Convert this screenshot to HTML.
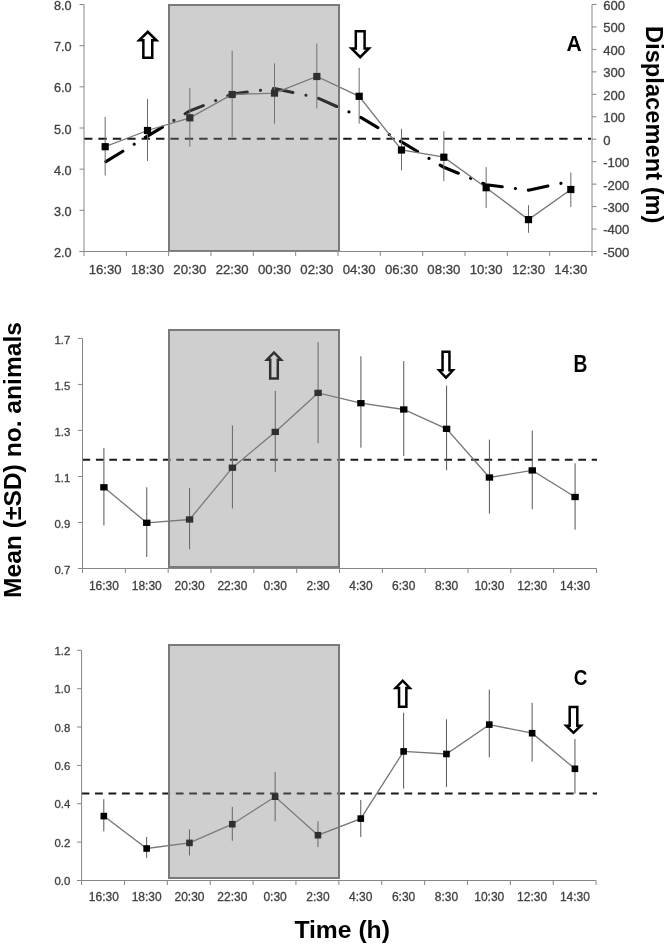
<!DOCTYPE html>
<html><head><meta charset="utf-8"><style>
html,body{margin:0;padding:0;background:#fff;}
body{width:666px;height:944px;overflow:hidden;}
svg{display:block;filter:grayscale(1);}
text{font-family:"Liberation Sans", sans-serif;}
.lb{stroke:#404040;stroke-width:0.3px;}
</style></head><body>
<svg width="666" height="944" viewBox="0 0 666 944" font-family='"Liberation Sans", sans-serif'>
<rect width="666" height="944" fill="#fff"/>
<line x1="84" y1="138.8" x2="591" y2="138.8" stroke="#1a1a1a" stroke-width="2" stroke-dasharray="8.4 6"/>
<polyline points="105.17,162.1 147.5,136.1 189.83,110.9 232.17,94.1 274.5,88.5 316.83,97.6 359.17,116.5 401.5,141.9 443.83,167.3 486.17,184.7 528.5,190.2 570.83,181.2" fill="none" stroke="#000" stroke-width="3.1" stroke-dasharray="19.94 13.33 0.01 13.03" stroke-dashoffset="-0.83" stroke-linecap="round" stroke-linejoin="round"/>
<line x1="105.17" y1="116.9" x2="105.17" y2="175.5" stroke="#6a6a6a" stroke-width="1"/>
<line x1="147.5" y1="98.9" x2="147.5" y2="161" stroke="#6a6a6a" stroke-width="1"/>
<line x1="189.83" y1="88" x2="189.83" y2="146.7" stroke="#6a6a6a" stroke-width="1"/>
<line x1="232.17" y1="50.7" x2="232.17" y2="137.2" stroke="#6a6a6a" stroke-width="1"/>
<line x1="274.5" y1="63.3" x2="274.5" y2="123.7" stroke="#6a6a6a" stroke-width="1"/>
<line x1="316.83" y1="43.5" x2="316.83" y2="108.4" stroke="#6a6a6a" stroke-width="1"/>
<line x1="359.17" y1="67.8" x2="359.17" y2="123.7" stroke="#6a6a6a" stroke-width="1"/>
<line x1="401.5" y1="128.9" x2="401.5" y2="170.4" stroke="#6a6a6a" stroke-width="1"/>
<line x1="443.83" y1="131.3" x2="443.83" y2="181.2" stroke="#6a6a6a" stroke-width="1"/>
<line x1="486.17" y1="167.1" x2="486.17" y2="208.1" stroke="#6a6a6a" stroke-width="1"/>
<line x1="528.5" y1="205.2" x2="528.5" y2="232.8" stroke="#6a6a6a" stroke-width="1"/>
<line x1="570.83" y1="172.4" x2="570.83" y2="207" stroke="#6a6a6a" stroke-width="1"/>
<polyline points="105.17,146.7 147.5,130.5 189.83,117.8 232.17,94.5 274.5,93.1 316.83,76.5 359.17,96.3 401.5,150 443.83,157.2 486.17,187.7 528.5,219.6 570.83,189.5" fill="none" stroke="#777" stroke-width="1.3"/>
<rect x="101.57" y="143.1" width="7.2" height="7.2" fill="#000"/>
<rect x="143.9" y="126.9" width="7.2" height="7.2" fill="#000"/>
<rect x="186.23" y="114.2" width="7.2" height="7.2" fill="#000"/>
<rect x="228.57" y="90.9" width="7.2" height="7.2" fill="#000"/>
<rect x="270.9" y="89.5" width="7.2" height="7.2" fill="#000"/>
<rect x="313.23" y="72.9" width="7.2" height="7.2" fill="#000"/>
<rect x="355.57" y="92.7" width="7.2" height="7.2" fill="#000"/>
<rect x="397.9" y="146.4" width="7.2" height="7.2" fill="#000"/>
<rect x="440.23" y="153.6" width="7.2" height="7.2" fill="#000"/>
<rect x="482.57" y="184.1" width="7.2" height="7.2" fill="#000"/>
<rect x="524.9" y="216" width="7.2" height="7.2" fill="#000"/>
<rect x="567.23" y="185.9" width="7.2" height="7.2" fill="#000"/>
<path d="M147.8,30.1 L159.5,41.6 L153.5,41.6 L153.5,58.9 L142.1,58.9 L142.1,41.6 L136.1,41.6 Z" fill="#000"/>
<path d="M147.8,33.64 L153.26,39.1 L151,39.1 L151,56.4 L144.6,56.4 L144.6,39.1 L142.34,39.1 Z" fill="#fff"/>
<path d="M354.55,30 L365.85,30 L365.85,47.3 L371.9,47.3 L360.2,58.9 L348.5,47.3 L354.55,47.3 Z" fill="#000"/>
<path d="M357.05,32.5 L363.35,32.5 L363.35,49.8 L365.76,49.8 L360.2,55.36 L354.64,49.8 L357.05,49.8 Z" fill="#fff"/>
<rect x="169" y="5" width="170" height="246" fill="#808080" fill-opacity="0.378" stroke="#7a7a7a" stroke-width="2"/>
<line x1="84" y1="4.5" x2="84" y2="251.5" stroke="#868686" stroke-width="1"/>
<line x1="79.5" y1="251.5" x2="596.5" y2="251.5" stroke="#868686" stroke-width="1"/>
<line x1="84" y1="251.5" x2="84" y2="256" stroke="#868686" stroke-width="1"/>
<line x1="126.33" y1="251.5" x2="126.33" y2="256" stroke="#868686" stroke-width="1"/>
<line x1="168.67" y1="251.5" x2="168.67" y2="256" stroke="#868686" stroke-width="1"/>
<line x1="211" y1="251.5" x2="211" y2="256" stroke="#868686" stroke-width="1"/>
<line x1="253.33" y1="251.5" x2="253.33" y2="256" stroke="#868686" stroke-width="1"/>
<line x1="295.67" y1="251.5" x2="295.67" y2="256" stroke="#868686" stroke-width="1"/>
<line x1="338" y1="251.5" x2="338" y2="256" stroke="#868686" stroke-width="1"/>
<line x1="380.33" y1="251.5" x2="380.33" y2="256" stroke="#868686" stroke-width="1"/>
<line x1="422.67" y1="251.5" x2="422.67" y2="256" stroke="#868686" stroke-width="1"/>
<line x1="465" y1="251.5" x2="465" y2="256" stroke="#868686" stroke-width="1"/>
<line x1="507.33" y1="251.5" x2="507.33" y2="256" stroke="#868686" stroke-width="1"/>
<line x1="549.67" y1="251.5" x2="549.67" y2="256" stroke="#868686" stroke-width="1"/>
<line x1="592" y1="251.5" x2="592" y2="256" stroke="#868686" stroke-width="1"/>
<line x1="79.5" y1="4.5" x2="84" y2="4.5" stroke="#868686" stroke-width="1"/>
<text x="71.6" y="10" text-anchor="end" font-size="12.7" fill="#404040" class="lb">8.0</text>
<line x1="79.5" y1="45.67" x2="84" y2="45.67" stroke="#868686" stroke-width="1"/>
<text x="71.6" y="51.17" text-anchor="end" font-size="12.7" fill="#404040" class="lb">7.0</text>
<line x1="79.5" y1="86.83" x2="84" y2="86.83" stroke="#868686" stroke-width="1"/>
<text x="71.6" y="92.33" text-anchor="end" font-size="12.7" fill="#404040" class="lb">6.0</text>
<line x1="79.5" y1="128" x2="84" y2="128" stroke="#868686" stroke-width="1"/>
<text x="71.6" y="133.5" text-anchor="end" font-size="12.7" fill="#404040" class="lb">5.0</text>
<line x1="79.5" y1="169.17" x2="84" y2="169.17" stroke="#868686" stroke-width="1"/>
<text x="71.6" y="174.67" text-anchor="end" font-size="12.7" fill="#404040" class="lb">4.0</text>
<line x1="79.5" y1="210.33" x2="84" y2="210.33" stroke="#868686" stroke-width="1"/>
<text x="71.6" y="215.83" text-anchor="end" font-size="12.7" fill="#404040" class="lb">3.0</text>
<line x1="79.5" y1="251.5" x2="84" y2="251.5" stroke="#868686" stroke-width="1"/>
<text x="71.6" y="257" text-anchor="end" font-size="12.7" fill="#404040" class="lb">2.0</text>
<text x="105.17" y="274.4" text-anchor="middle" font-size="13.2" fill="#404040" class="lb">16:30</text>
<text x="147.5" y="274.4" text-anchor="middle" font-size="13.2" fill="#404040" class="lb">18:30</text>
<text x="189.83" y="274.4" text-anchor="middle" font-size="13.2" fill="#404040" class="lb">20:30</text>
<text x="232.17" y="274.4" text-anchor="middle" font-size="13.2" fill="#404040" class="lb">22:30</text>
<text x="274.5" y="274.4" text-anchor="middle" font-size="13.2" fill="#404040" class="lb">00:30</text>
<text x="316.83" y="274.4" text-anchor="middle" font-size="13.2" fill="#404040" class="lb">02:30</text>
<text x="359.17" y="274.4" text-anchor="middle" font-size="13.2" fill="#404040" class="lb">04:30</text>
<text x="401.5" y="274.4" text-anchor="middle" font-size="13.2" fill="#404040" class="lb">06:30</text>
<text x="443.83" y="274.4" text-anchor="middle" font-size="13.2" fill="#404040" class="lb">08:30</text>
<text x="486.17" y="274.4" text-anchor="middle" font-size="13.2" fill="#404040" class="lb">10:30</text>
<text x="528.5" y="274.4" text-anchor="middle" font-size="13.2" fill="#404040" class="lb">12:30</text>
<text x="570.83" y="274.4" text-anchor="middle" font-size="13.2" fill="#404040" class="lb">14:30</text>
<line x1="592" y1="4.5" x2="592" y2="251.5" stroke="#868686" stroke-width="1"/>
<line x1="592" y1="4.5" x2="596.5" y2="4.5" stroke="#868686" stroke-width="1"/>
<text x="603.2" y="9.9" font-size="13.1" fill="#404040" class="lb">600</text>
<line x1="592" y1="26.95" x2="596.5" y2="26.95" stroke="#868686" stroke-width="1"/>
<text x="603.2" y="32.35" font-size="13.1" fill="#404040" class="lb">500</text>
<line x1="592" y1="49.41" x2="596.5" y2="49.41" stroke="#868686" stroke-width="1"/>
<text x="603.2" y="54.81" font-size="13.1" fill="#404040" class="lb">400</text>
<line x1="592" y1="71.86" x2="596.5" y2="71.86" stroke="#868686" stroke-width="1"/>
<text x="603.2" y="77.26" font-size="13.1" fill="#404040" class="lb">300</text>
<line x1="592" y1="94.32" x2="596.5" y2="94.32" stroke="#868686" stroke-width="1"/>
<text x="603.2" y="99.72" font-size="13.1" fill="#404040" class="lb">200</text>
<line x1="592" y1="116.77" x2="596.5" y2="116.77" stroke="#868686" stroke-width="1"/>
<text x="603.2" y="122.17" font-size="13.1" fill="#404040" class="lb">100</text>
<line x1="592" y1="139.23" x2="596.5" y2="139.23" stroke="#868686" stroke-width="1"/>
<text x="603.2" y="144.63" font-size="13.1" fill="#404040" class="lb">0</text>
<line x1="592" y1="161.68" x2="596.5" y2="161.68" stroke="#868686" stroke-width="1"/>
<text x="603.2" y="167.08" font-size="13.1" fill="#404040" class="lb">-100</text>
<line x1="592" y1="184.14" x2="596.5" y2="184.14" stroke="#868686" stroke-width="1"/>
<text x="603.2" y="189.54" font-size="13.1" fill="#404040" class="lb">-200</text>
<line x1="592" y1="206.59" x2="596.5" y2="206.59" stroke="#868686" stroke-width="1"/>
<text x="603.2" y="211.99" font-size="13.1" fill="#404040" class="lb">-300</text>
<line x1="592" y1="229.05" x2="596.5" y2="229.05" stroke="#868686" stroke-width="1"/>
<text x="603.2" y="234.45" font-size="13.1" fill="#404040" class="lb">-400</text>
<line x1="592" y1="251.5" x2="596.5" y2="251.5" stroke="#868686" stroke-width="1"/>
<text x="603.2" y="256.9" font-size="13.1" fill="#404040" class="lb">-500</text>
<text transform="translate(566.5,51.1) scale(0.97,1)" font-size="21.7" font-weight="bold" fill="#000">A</text>
<line x1="82.5" y1="459.7" x2="597" y2="459.7" stroke="#1a1a1a" stroke-width="2" stroke-dasharray="7.7 5.7"/>
<line x1="103.92" y1="448" x2="103.92" y2="525.5" stroke="#555" stroke-width="1"/>
<line x1="146.75" y1="487.3" x2="146.75" y2="557" stroke="#555" stroke-width="1"/>
<line x1="189.58" y1="488" x2="189.58" y2="549.3" stroke="#555" stroke-width="1"/>
<line x1="232.42" y1="425.5" x2="232.42" y2="508.4" stroke="#555" stroke-width="1"/>
<line x1="275.25" y1="390.9" x2="275.25" y2="471.8" stroke="#555" stroke-width="1"/>
<line x1="318.08" y1="342.2" x2="318.08" y2="443.3" stroke="#555" stroke-width="1"/>
<line x1="360.92" y1="356.3" x2="360.92" y2="447.7" stroke="#555" stroke-width="1"/>
<line x1="403.75" y1="361.1" x2="403.75" y2="456.1" stroke="#555" stroke-width="1"/>
<line x1="446.58" y1="385.7" x2="446.58" y2="470.2" stroke="#555" stroke-width="1"/>
<line x1="489.42" y1="439.6" x2="489.42" y2="513.6" stroke="#555" stroke-width="1"/>
<line x1="532.25" y1="430.6" x2="532.25" y2="509.2" stroke="#555" stroke-width="1"/>
<line x1="575.08" y1="463.3" x2="575.08" y2="529.7" stroke="#555" stroke-width="1"/>
<polyline points="103.92,487.3 146.75,522.8 189.58,519.5 232.42,467.7 275.25,431.9 318.08,392.9 360.92,403.2 403.75,409.5 446.58,428.8 489.42,477.5 532.25,470.4 575.08,497" fill="none" stroke="#777" stroke-width="1.3"/>
<rect x="100.22" y="484.15" width="7.4" height="6.3" fill="#000"/>
<rect x="143.05" y="519.65" width="7.4" height="6.3" fill="#000"/>
<rect x="185.88" y="516.35" width="7.4" height="6.3" fill="#000"/>
<rect x="228.72" y="464.55" width="7.4" height="6.3" fill="#000"/>
<rect x="271.55" y="428.75" width="7.4" height="6.3" fill="#000"/>
<rect x="314.38" y="389.75" width="7.4" height="6.3" fill="#000"/>
<rect x="357.22" y="400.05" width="7.4" height="6.3" fill="#000"/>
<rect x="400.05" y="406.35" width="7.4" height="6.3" fill="#000"/>
<rect x="442.88" y="425.65" width="7.4" height="6.3" fill="#000"/>
<rect x="485.72" y="474.35" width="7.4" height="6.3" fill="#000"/>
<rect x="528.55" y="467.25" width="7.4" height="6.3" fill="#000"/>
<rect x="571.38" y="493.85" width="7.4" height="6.3" fill="#000"/>
<path d="M274,350.8 L283.95,361 L279.05,361 L279.05,379.8 L268.95,379.8 L268.95,361 L264.05,361 Z" fill="#000"/>
<path d="M274,354.34 L278.16,358.5 L276.55,358.5 L276.55,377.3 L271.45,377.3 L271.45,358.5 L269.84,358.5 Z" fill="#fff"/>
<path d="M441.3,350.6 L450.7,350.6 L450.7,368.9 L455.75,368.9 L446,379.4 L436.25,368.9 L441.3,368.9 Z" fill="#000"/>
<path d="M443.8,353.1 L448.2,353.1 L448.2,371.4 L450.46,371.4 L446,375.86 L441.54,371.4 L443.8,371.4 Z" fill="#fff"/>
<rect x="169" y="330" width="170" height="237" fill="#808080" fill-opacity="0.378" stroke="#7a7a7a" stroke-width="2"/>
<line x1="82.5" y1="338.4" x2="82.5" y2="568.5" stroke="#868686" stroke-width="1"/>
<line x1="78" y1="568.5" x2="596.5" y2="568.5" stroke="#868686" stroke-width="1"/>
<line x1="82.5" y1="568.5" x2="82.5" y2="573" stroke="#868686" stroke-width="1"/>
<line x1="125.33" y1="568.5" x2="125.33" y2="573" stroke="#868686" stroke-width="1"/>
<line x1="168.17" y1="568.5" x2="168.17" y2="573" stroke="#868686" stroke-width="1"/>
<line x1="211" y1="568.5" x2="211" y2="573" stroke="#868686" stroke-width="1"/>
<line x1="253.83" y1="568.5" x2="253.83" y2="573" stroke="#868686" stroke-width="1"/>
<line x1="296.67" y1="568.5" x2="296.67" y2="573" stroke="#868686" stroke-width="1"/>
<line x1="339.5" y1="568.5" x2="339.5" y2="573" stroke="#868686" stroke-width="1"/>
<line x1="382.33" y1="568.5" x2="382.33" y2="573" stroke="#868686" stroke-width="1"/>
<line x1="425.17" y1="568.5" x2="425.17" y2="573" stroke="#868686" stroke-width="1"/>
<line x1="468" y1="568.5" x2="468" y2="573" stroke="#868686" stroke-width="1"/>
<line x1="510.83" y1="568.5" x2="510.83" y2="573" stroke="#868686" stroke-width="1"/>
<line x1="553.67" y1="568.5" x2="553.67" y2="573" stroke="#868686" stroke-width="1"/>
<line x1="596.5" y1="568.5" x2="596.5" y2="573" stroke="#868686" stroke-width="1"/>
<line x1="78" y1="338.4" x2="82.5" y2="338.4" stroke="#868686" stroke-width="1"/>
<text x="70.3" y="343.5" text-anchor="end" font-size="11.4" fill="#404040" class="lb">1.7</text>
<line x1="78" y1="384.42" x2="82.5" y2="384.42" stroke="#868686" stroke-width="1"/>
<text x="70.3" y="389.52" text-anchor="end" font-size="11.4" fill="#404040" class="lb">1.5</text>
<line x1="78" y1="430.44" x2="82.5" y2="430.44" stroke="#868686" stroke-width="1"/>
<text x="70.3" y="435.54" text-anchor="end" font-size="11.4" fill="#404040" class="lb">1.3</text>
<line x1="78" y1="476.46" x2="82.5" y2="476.46" stroke="#868686" stroke-width="1"/>
<text x="70.3" y="481.56" text-anchor="end" font-size="11.4" fill="#404040" class="lb">1.1</text>
<line x1="78" y1="522.48" x2="82.5" y2="522.48" stroke="#868686" stroke-width="1"/>
<text x="70.3" y="527.58" text-anchor="end" font-size="11.4" fill="#404040" class="lb">0.9</text>
<line x1="78" y1="568.5" x2="82.5" y2="568.5" stroke="#868686" stroke-width="1"/>
<text x="70.3" y="573.6" text-anchor="end" font-size="11.4" fill="#404040" class="lb">0.7</text>
<text x="103.92" y="589.7" text-anchor="middle" font-size="12" fill="#404040" class="lb">16:30</text>
<text x="146.75" y="589.7" text-anchor="middle" font-size="12" fill="#404040" class="lb">18:30</text>
<text x="189.58" y="589.7" text-anchor="middle" font-size="12" fill="#404040" class="lb">20:30</text>
<text x="232.42" y="589.7" text-anchor="middle" font-size="12" fill="#404040" class="lb">22:30</text>
<text x="275.25" y="589.7" text-anchor="middle" font-size="12" fill="#404040" class="lb">0:30</text>
<text x="318.08" y="589.7" text-anchor="middle" font-size="12" fill="#404040" class="lb">2:30</text>
<text x="360.92" y="589.7" text-anchor="middle" font-size="12" fill="#404040" class="lb">4:30</text>
<text x="403.75" y="589.7" text-anchor="middle" font-size="12" fill="#404040" class="lb">6:30</text>
<text x="446.58" y="589.7" text-anchor="middle" font-size="12" fill="#404040" class="lb">8:30</text>
<text x="489.42" y="589.7" text-anchor="middle" font-size="12" fill="#404040" class="lb">10:30</text>
<text x="532.25" y="589.7" text-anchor="middle" font-size="12" fill="#404040" class="lb">12:30</text>
<text x="575.08" y="589.7" text-anchor="middle" font-size="12" fill="#404040" class="lb">14:30</text>
<text transform="translate(573.45,371.7) scale(0.835,1)" font-size="23" font-weight="bold" fill="#000">B</text>
<line x1="81.6" y1="793.5" x2="597" y2="793.5" stroke="#1a1a1a" stroke-width="2" stroke-dasharray="7.8 5.65"/>
<line x1="103.81" y1="799.2" x2="103.81" y2="831.4" stroke="#555" stroke-width="1"/>
<line x1="146.65" y1="837" x2="146.65" y2="857.9" stroke="#555" stroke-width="1"/>
<line x1="189.47" y1="829.3" x2="189.47" y2="855.4" stroke="#555" stroke-width="1"/>
<line x1="232.31" y1="806.9" x2="232.31" y2="840.8" stroke="#555" stroke-width="1"/>
<line x1="275.13" y1="771.9" x2="275.13" y2="821.2" stroke="#555" stroke-width="1"/>
<line x1="317.97" y1="821.2" x2="317.97" y2="847.2" stroke="#555" stroke-width="1"/>
<line x1="360.79" y1="800" x2="360.79" y2="837" stroke="#555" stroke-width="1"/>
<line x1="403.62" y1="712.7" x2="403.62" y2="788.6" stroke="#555" stroke-width="1"/>
<line x1="446.46" y1="719.3" x2="446.46" y2="787" stroke="#555" stroke-width="1"/>
<line x1="489.28" y1="689.6" x2="489.28" y2="757.3" stroke="#555" stroke-width="1"/>
<line x1="532.12" y1="702.8" x2="532.12" y2="761.6" stroke="#555" stroke-width="1"/>
<line x1="574.94" y1="739.1" x2="574.94" y2="793.6" stroke="#555" stroke-width="1"/>
<polyline points="103.81,816.1 146.65,848.5 189.47,842.9 232.31,824.2 275.13,796.7 317.97,835.2 360.79,818.6 403.62,751.4 446.46,754 489.28,724.6 532.12,733.2 574.94,768.8" fill="none" stroke="#777" stroke-width="1.3"/>
<rect x="100.52" y="812.8" width="6.6" height="6.6" fill="#000"/>
<rect x="143.34" y="845.2" width="6.6" height="6.6" fill="#000"/>
<rect x="186.17" y="839.6" width="6.6" height="6.6" fill="#000"/>
<rect x="229" y="820.9" width="6.6" height="6.6" fill="#000"/>
<rect x="271.83" y="793.4" width="6.6" height="6.6" fill="#000"/>
<rect x="314.67" y="831.9" width="6.6" height="6.6" fill="#000"/>
<rect x="357.49" y="815.3" width="6.6" height="6.6" fill="#000"/>
<rect x="400.32" y="748.1" width="6.6" height="6.6" fill="#000"/>
<rect x="443.16" y="750.7" width="6.6" height="6.6" fill="#000"/>
<rect x="485.98" y="721.3" width="6.6" height="6.6" fill="#000"/>
<rect x="528.82" y="729.9" width="6.6" height="6.6" fill="#000"/>
<rect x="571.64" y="765.5" width="6.6" height="6.6" fill="#000"/>
<path d="M402.7,678.9 L412.7,689.3 L407.6,689.3 L407.6,708 L397.8,708 L397.8,689.3 L392.7,689.3 Z" fill="#000"/>
<path d="M402.7,682.44 L407.06,686.8 L405.1,686.8 L405.1,705.5 L400.3,705.5 L400.3,686.8 L398.34,686.8 Z" fill="#fff"/>
<path d="M568.45,705.7 L578.55,705.7 L578.55,724.4 L583.85,724.4 L573.5,734.6 L563.15,724.4 L568.45,724.4 Z" fill="#000"/>
<path d="M570.95,708.2 L576.05,708.2 L576.05,726.9 L577.66,726.9 L573.5,731.06 L569.34,726.9 L570.95,726.9 Z" fill="#fff"/>
<rect x="169" y="645" width="170" height="233" fill="#808080" fill-opacity="0.378" stroke="#7a7a7a" stroke-width="2"/>
<line x1="81.6" y1="650.3" x2="81.6" y2="880.5" stroke="#868686" stroke-width="1"/>
<line x1="77.1" y1="880.5" x2="596.1" y2="880.5" stroke="#868686" stroke-width="1"/>
<line x1="81.6" y1="880.5" x2="81.6" y2="885" stroke="#868686" stroke-width="1"/>
<line x1="124.47" y1="880.5" x2="124.47" y2="885" stroke="#868686" stroke-width="1"/>
<line x1="167.35" y1="880.5" x2="167.35" y2="885" stroke="#868686" stroke-width="1"/>
<line x1="210.22" y1="880.5" x2="210.22" y2="885" stroke="#868686" stroke-width="1"/>
<line x1="253.1" y1="880.5" x2="253.1" y2="885" stroke="#868686" stroke-width="1"/>
<line x1="295.98" y1="880.5" x2="295.98" y2="885" stroke="#868686" stroke-width="1"/>
<line x1="338.85" y1="880.5" x2="338.85" y2="885" stroke="#868686" stroke-width="1"/>
<line x1="381.73" y1="880.5" x2="381.73" y2="885" stroke="#868686" stroke-width="1"/>
<line x1="424.6" y1="880.5" x2="424.6" y2="885" stroke="#868686" stroke-width="1"/>
<line x1="467.48" y1="880.5" x2="467.48" y2="885" stroke="#868686" stroke-width="1"/>
<line x1="510.35" y1="880.5" x2="510.35" y2="885" stroke="#868686" stroke-width="1"/>
<line x1="553.23" y1="880.5" x2="553.23" y2="885" stroke="#868686" stroke-width="1"/>
<line x1="596.1" y1="880.5" x2="596.1" y2="885" stroke="#868686" stroke-width="1"/>
<line x1="77.1" y1="650.3" x2="81.6" y2="650.3" stroke="#868686" stroke-width="1"/>
<text x="70.3" y="654.8" text-anchor="end" font-size="11.4" fill="#404040" class="lb">1.2</text>
<line x1="77.1" y1="688.67" x2="81.6" y2="688.67" stroke="#868686" stroke-width="1"/>
<text x="70.3" y="693.17" text-anchor="end" font-size="11.4" fill="#404040" class="lb">1.0</text>
<line x1="77.1" y1="727.03" x2="81.6" y2="727.03" stroke="#868686" stroke-width="1"/>
<text x="70.3" y="731.53" text-anchor="end" font-size="11.4" fill="#404040" class="lb">0.8</text>
<line x1="77.1" y1="765.4" x2="81.6" y2="765.4" stroke="#868686" stroke-width="1"/>
<text x="70.3" y="769.9" text-anchor="end" font-size="11.4" fill="#404040" class="lb">0.6</text>
<line x1="77.1" y1="803.77" x2="81.6" y2="803.77" stroke="#868686" stroke-width="1"/>
<text x="70.3" y="808.27" text-anchor="end" font-size="11.4" fill="#404040" class="lb">0.4</text>
<line x1="77.1" y1="842.13" x2="81.6" y2="842.13" stroke="#868686" stroke-width="1"/>
<text x="70.3" y="846.63" text-anchor="end" font-size="11.4" fill="#404040" class="lb">0.2</text>
<line x1="77.1" y1="880.5" x2="81.6" y2="880.5" stroke="#868686" stroke-width="1"/>
<text x="70.3" y="885" text-anchor="end" font-size="11.4" fill="#404040" class="lb">0.0</text>
<text x="103.81" y="901.3" text-anchor="middle" font-size="12" fill="#404040" class="lb">16:30</text>
<text x="146.65" y="901.3" text-anchor="middle" font-size="12" fill="#404040" class="lb">18:30</text>
<text x="189.47" y="901.3" text-anchor="middle" font-size="12" fill="#404040" class="lb">20:30</text>
<text x="232.31" y="901.3" text-anchor="middle" font-size="12" fill="#404040" class="lb">22:30</text>
<text x="275.13" y="901.3" text-anchor="middle" font-size="12" fill="#404040" class="lb">0:30</text>
<text x="317.97" y="901.3" text-anchor="middle" font-size="12" fill="#404040" class="lb">2:30</text>
<text x="360.79" y="901.3" text-anchor="middle" font-size="12" fill="#404040" class="lb">4:30</text>
<text x="403.62" y="901.3" text-anchor="middle" font-size="12" fill="#404040" class="lb">6:30</text>
<text x="446.46" y="901.3" text-anchor="middle" font-size="12" fill="#404040" class="lb">8:30</text>
<text x="489.28" y="901.3" text-anchor="middle" font-size="12" fill="#404040" class="lb">10:30</text>
<text x="532.12" y="901.3" text-anchor="middle" font-size="12" fill="#404040" class="lb">12:30</text>
<text x="574.94" y="901.3" text-anchor="middle" font-size="12" fill="#404040" class="lb">14:30</text>
<text transform="translate(573.65,685) scale(0.825,1)" font-size="22.8" font-weight="bold" fill="#000">C</text>
<text transform="translate(645.6,26) rotate(90)" font-size="23.6" font-weight="bold" fill="#000" textLength="197.5" lengthAdjust="spacingAndGlyphs">Displacement (m)</text>
<text transform="translate(20.7,598) rotate(-90)" font-size="24.4" font-weight="bold" fill="#000" textLength="276" lengthAdjust="spacingAndGlyphs">Mean (&#177;SD) no. animals</text>
<text x="294.4" y="937.7" font-size="24.6" font-weight="bold" fill="#000" textLength="95.5" lengthAdjust="spacingAndGlyphs">Time (h)</text>
</svg>
</body></html>
